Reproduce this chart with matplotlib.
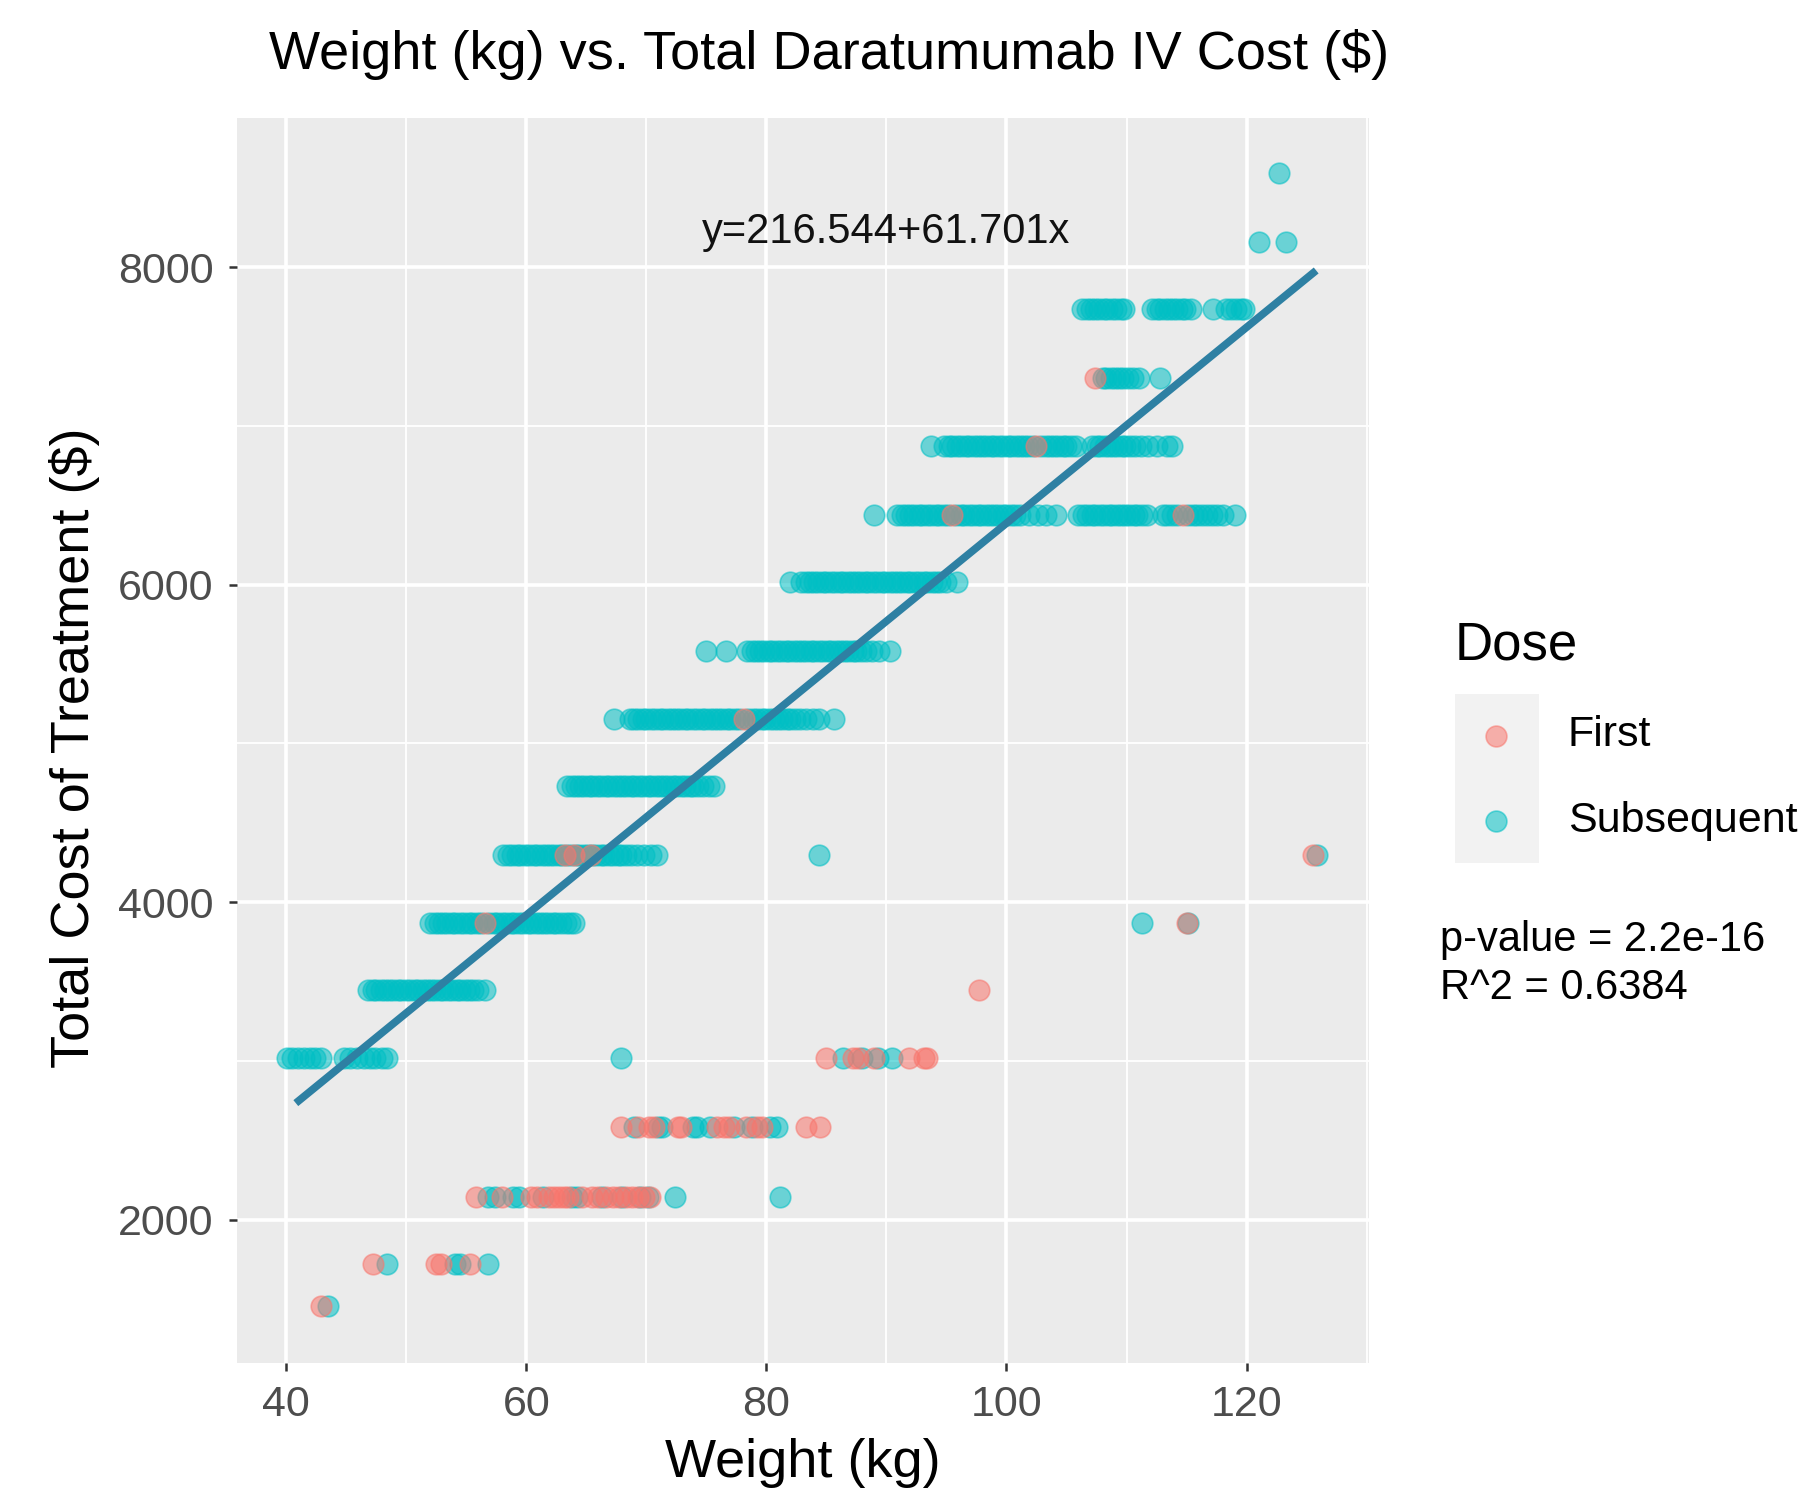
import matplotlib
matplotlib.use("Agg")
import matplotlib.pyplot as plt
from matplotlib.patches import Rectangle
import numpy as np

plt.rcParams['font.family'] = ['Liberation Sans', 'DejaVu Sans']

# weights (kg) of each dose, grouped by total cost level ($)
first_1459 = [42.9]
sub_1459 = [43.5]
first_1718 = [47.2, 52.5, 52.9, 55.3]
sub_1718 = [48.4, 54.1, 54.5, 56.8]
first_2144 = [55.8, 58.0, 60.4, 60.9, 61.9, 62.3, 62.7, 63.1, 63.5, 64.6, 65.5, 66.0,
              66.6, 67.2, 67.7, 68.3, 68.8, 69.3, 69.8, 70.3]
sub_2144 = [56.8, 57.4, 58.9, 59.4, 61.4, 63.8, 64.2, 66.3, 68.0, 69.5, 70.1, 72.4, 81.1]
first_2585 = [67.9, 69.3, 70.2, 70.6, 72.6, 72.9, 75.9, 76.5, 76.9, 78.3, 79.2, 79.6, 83.3, 84.5]
sub_2585 = [69.0, 71.0, 71.3, 73.9, 74.2, 75.3, 77.3, 78.8, 80.3, 80.9]
first_3018 = [85.0, 87.2, 87.6, 89.0, 91.9, 93.1, 93.4]
sub_3018 = [40.1, 40.5, 41.0, 41.5, 42.0, 42.4, 42.9, 44.8, 45.3, 45.9, 46.5, 47.0, 47.4,
            48.0, 48.4, 67.9, 86.4, 88.0, 89.3, 90.5]
first_3444 = [97.7]
sub_3444 = [46.8, 47.2, 47.5, 47.9, 48.2, 48.6, 48.9, 49.3, 49.6, 50.0, 50.3, 50.7, 51.0,
            51.4, 51.7, 52.1, 52.4, 52.8, 53.1, 53.5, 53.8, 54.2, 54.5, 54.9, 55.2, 55.6,
            56.0, 56.6]
first_3870 = [56.6, 115.0]
sub_3870 = [52.0, 52.4, 52.7, 53.1, 53.4, 53.8, 54.1, 54.5, 54.8, 55.2, 55.5, 55.9, 56.2,
            56.9, 57.3, 57.6, 58.0, 58.3, 58.7, 59.0, 59.4, 59.7, 60.1, 60.4, 60.8, 61.1,
            61.5, 61.8, 62.2, 62.5, 62.9, 63.3, 63.6, 64.0, 111.3, 115.1]
first_4296 = [63.2, 64.0, 65.4, 125.5]
sub_4296 = [58.1, 58.5, 58.8, 59.2, 59.5, 59.9, 60.2, 60.6, 60.9, 61.3, 61.6, 62.0, 62.3,
            62.7, 63.0, 63.4, 63.7, 64.1, 64.4, 64.8, 65.1, 65.5, 65.8, 66.2, 66.5, 66.9,
            67.2, 67.6, 67.9, 68.3, 68.7, 69.2, 69.8, 70.4, 70.9, 84.4, 125.9]
first_4729 = []
sub_4729 = [63.4, 63.8, 64.1, 64.5, 64.8, 65.2, 65.5, 65.9, 66.2, 66.6, 66.9, 67.3, 67.6,
            68.0, 68.3, 68.7, 69.0, 69.4, 69.7, 70.1, 70.4, 70.8, 71.1, 71.5, 71.8, 72.2,
            72.5, 72.9, 73.2, 73.6, 73.9, 74.3, 74.7, 75.2, 75.6]
first_5155 = [78.1]
sub_5155 = [67.3, 68.6, 69.0, 69.3, 69.7, 70.0, 70.4, 70.7, 71.1, 71.4, 71.8, 72.1, 72.5,
            72.8, 73.2, 73.5, 73.9, 74.2, 74.6, 74.9, 75.3, 75.6, 76.0, 76.3, 76.7, 77.0,
            77.4, 77.7, 78.5, 78.9, 79.2, 79.6, 79.9, 80.3, 80.6, 81.0, 81.3, 81.7, 82.0,
            82.4, 82.8, 83.3, 83.9, 84.4, 85.6]
first_5581 = []
sub_5581 = [75.0, 76.6, 78.4, 78.8, 79.1, 79.5, 79.8, 80.2, 80.5, 80.9, 81.2, 81.6, 81.9,
            82.3, 82.6, 83.0, 83.3, 83.7, 84.0, 84.4, 84.7, 85.1, 85.4, 85.8, 86.1, 86.5,
            86.8, 87.2, 87.5, 87.9, 88.3, 88.8, 89.4, 90.3]
first_6014 = []
sub_6014 = [82.0, 82.9, 83.3, 83.6, 84.0, 84.3, 84.7, 85.0, 85.4, 85.7, 86.1, 86.4, 86.8,
            87.1, 87.5, 87.8, 88.2, 88.5, 88.9, 89.2, 89.6, 89.9, 90.3, 90.6, 91.0, 91.3,
            91.7, 92.0, 92.4, 92.7, 93.1, 93.4, 93.8, 94.1, 94.5, 95.0, 95.9]
first_6440 = [95.5, 114.7]
sub_6440 = [89.0, 90.9, 91.3, 91.6, 92.0, 92.3, 92.7, 93.0, 93.4, 93.7, 94.1, 94.4, 94.8,
            95.1, 95.8, 96.2, 96.5, 96.9, 97.2, 97.6, 97.9, 98.3, 98.6, 99.0, 99.3, 99.7,
            100.0, 100.4, 100.7, 101.1, 101.9, 102.6, 103.3, 104.1, 106.0, 106.4, 106.7,
            107.1, 107.4, 107.8, 108.1, 108.5, 108.8, 109.2, 109.5, 109.9, 110.2, 110.6,
            110.9, 111.3, 111.7, 113.0, 113.4, 113.8, 114.2, 115.1, 115.5, 115.9, 116.3,
            116.7, 117.1, 117.5, 118.0, 119.0]
first_6874 = [102.5]
sub_6874 = [93.7, 94.8, 95.2, 95.5, 95.9, 96.2, 96.6, 96.9, 97.3, 97.6, 98.0, 98.3, 98.7,
            99.0, 99.4, 99.7, 100.1, 100.4, 100.8, 101.1, 101.5, 101.8, 102.2, 102.9, 103.3,
            103.6, 104.0, 104.3, 104.7, 105.0, 105.4, 105.8, 107.1, 107.5, 107.8, 108.2,
            108.5, 108.9, 109.2, 109.6, 109.9, 110.3, 110.7, 111.2, 111.8, 112.5, 113.4, 113.8]
first_7300 = [107.4]
sub_7300 = [108.0, 108.3, 108.7, 109.0, 109.4, 109.7, 110.1, 110.5, 111.0, 112.8]
first_7733 = []
sub_7733 = [106.3, 106.7, 107.0, 107.4, 107.7, 108.1, 108.4, 108.8, 109.1, 109.5, 109.8,
            112.1, 112.5, 112.8, 113.2, 113.5, 113.9, 114.2, 114.6, 114.9, 115.4, 117.2,
            118.3, 118.7, 119.1, 119.5, 119.8]
first_8159 = []
sub_8159 = [121.0, 123.3]
first_8592 = []
sub_8592 = [122.7]

cost_levels = [1459, 1718, 2144, 2585, 3018, 3444, 3870, 4296, 4729, 5155, 5581, 6014,
               6440, 6874, 7300, 7733, 8159, 8592]
first_groups = [first_1459, first_1718, first_2144, first_2585, first_3018, first_3444,
                first_3870, first_4296, first_4729, first_5155, first_5581, first_6014,
                first_6440, first_6874, first_7300, first_7733, first_8159, first_8592]
sub_groups = [sub_1459, sub_1718, sub_2144, sub_2585, sub_3018, sub_3444, sub_3870,
              sub_4296, sub_4729, sub_5155, sub_5581, sub_6014, sub_6440, sub_6874,
              sub_7300, sub_7733, sub_8159, sub_8592]

# fitted line: y = intercept + slope * x, drawn over the fitted weight range
intercept = 216.544
slope = 61.701
fit_range = [40.8, 125.8]

first_x = [w for g in first_groups for w in g]
first_y = [c for c, g in zip(cost_levels, first_groups) for w in g]
sub_x = [w for g in sub_groups for w in g]
sub_y = [c for c, g in zip(cost_levels, sub_groups) for w in g]

red = '#F8766D'
teal = '#00BFC4'
W, H = 1799, 1494

fig = plt.figure(figsize=(W / 100, H / 100), dpi=100)
ax = fig.add_axes([237 / W, 1 - 1363 / H, (1369 - 237) / W, (1363 - 118) / H])
ax.set_facecolor('#EBEBEB')

ax.scatter(sub_x, sub_y, s=220, color=teal, alpha=0.55, edgecolors=teal, linewidths=1.2, zorder=3)
ax.scatter(first_x, first_y, s=220, color=red, alpha=0.55, edgecolors=red, linewidths=1.2, zorder=3)

lx = np.array(fit_range)
ax.plot(lx, intercept + slope * lx, color='#2E80A3', lw=5.5, zorder=4, solid_capstyle='butt')

ax.text(90, 8224, "y=216.544+61.701x", fontsize=30, ha='center', va='center', color='#111111')

ax.set_xlim(35.9, 130.2)
ax.set_ylim(1097, 8939)
ax.set_xticks([40, 60, 80, 100, 120])
ax.set_xticks([50, 70, 90, 110, 130], minor=True)
ax.set_yticks([2000, 4000, 6000, 8000])
ax.set_yticks([3000, 5000, 7000], minor=True)
ax.grid(which='major', color='white', lw=2.6)
ax.grid(which='minor', color='white', lw=1.3)
ax.set_axisbelow(True)
for s in ax.spines.values():
    s.set_visible(False)
ax.tick_params(which='major', length=6, width=1.8, color='#333333', labelsize=31,
               labelcolor='#4D4D4D')
ax.tick_params(axis='y', pad=11)
ax.tick_params(axis='x', pad=10)
ax.tick_params(which='minor', length=0)

fig.text(829 / W, 1 - 54 / H, "Weight (kg) vs. Total Daratumumab IV Cost ($)", fontsize=39,
         ha='center', va='center')
fig.text(803 / W, 1 - 1463 / H, "Weight (kg)", fontsize=39, ha='center', va='center')
fig.text(75 / W, 1 - 748 / H, "Total Cost of Treatment ($)", fontsize=39, ha='center',
         va='center', rotation=90)

# legend drawn by hand to match ggplot's layout
fig.text(1455 / W, 1 - 645 / H, "Dose", fontsize=38, ha='left', va='center')
fig.patches.append(Rectangle((1455 / W, 1 - 863 / H), 84 / W, 169 / H,
                             transform=fig.transFigure, facecolor='#F2F2F2', edgecolor='none'))
key_y = [735.5, 821.5]
for yy, col, lab in zip(key_y, [red, teal], ["First", "Subsequent"]):
    fig.add_artist(plt.Line2D([1496 / W], [1 - yy / H], marker='o', markersize=15,
                              color=col, alpha=0.55, markeredgewidth=1.2,
                              transform=fig.transFigure))
    fig.text(1568 / W, 1 - yy / H, lab, fontsize=31, ha='left', va='center')

fig.text(1440 / W, 1 - 940 / H, "p-value = 2.2e-16", fontsize=30, ha='left', va='center')
fig.text(1440 / W, 1 - 988 / H, "R^2 = 0.6384", fontsize=30, ha='left', va='center')

fig.savefig("out.png", dpi=100)
